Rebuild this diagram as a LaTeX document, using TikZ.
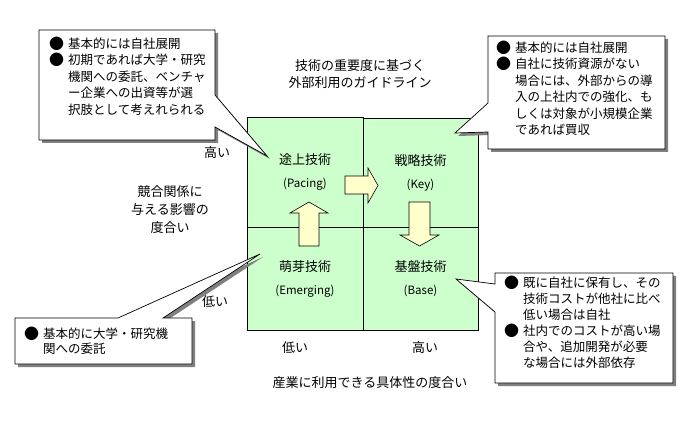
\documentclass[tikz,border=0pt]{standalone}
\usepackage{fontspec}
\setmainfont{Noto Sans CJK JP}
\definecolor{qgreen}{HTML}{CCFFCC}
\definecolor{ayellow}{HTML}{FFFFCC}
\definecolor{shadowgray}{HTML}{808080}
\newcommand{\bul}{\makebox[18pt][l]{\hspace*{-1pt}\raisebox{-1pt}{\fontsize{15}{16}\selectfont ●}}}
\newcommand{\ind}{\hspace*{18pt}}
\newcommand{\lat}[1]{{\fontsize{11.5}{14}\selectfont #1}}
\begin{document}
\begin{tikzpicture}[x=1pt,y=-1pt,
  font=\fontsize{13}{17}\selectfont,
  quad/.style={draw=black, fill=qgreen, line width=0.7pt, inner sep=0pt, align=center},
  blockarrow/.style={draw=black, fill=ayellow, line width=0.6pt, line join=miter},
  callout/.style={draw=black, fill=white, line width=0.7pt,
    preaction={fill=shadowgray, transform canvas={xshift=3pt,yshift=-3pt}}},
  ctext/.style={anchor=west, align=left, inner sep=0pt, font=\fontsize{12.5}{16.5}\selectfont},
  lbl/.style={inner sep=0pt, align=center}]
\useasboundingbox (0,0) rectangle (689,425);

% quadrants
\node[quad, minimum width=116pt, minimum height=110pt] (pac) at (305,172) {途上技術\\[6pt]\lat{(Pacing)}};
\node[quad, minimum width=115pt, minimum height=109pt] (key) at (420.5,172.5) {戦略技術\\[6pt]\lat{(Key)}};
\node[quad, minimum width=116pt, minimum height=103pt] (emg) at (305,278.5) {萌芽技術\\[6pt]\lat{(Emerging)}};
\node[quad, minimum width=115pt, minimum height=103pt] (bas) at (420.5,278.5) {基盤技術\\[6pt]\lat{(Base)}};

% block arrows
\draw[blockarrow] (345,176) -- (368,176) -- (368,168) -- (378,185.5) -- (368,203) -- (368,194) -- (345,194) -- cycle;
\draw[blockarrow] (299,246) -- (299,213) -- (290,213) -- (309,202) -- (328,213) -- (319,213) -- (319,246) -- cycle;
\draw[blockarrow] (409,202) -- (430,202) -- (430,235) -- (439,235) -- (419.5,246) -- (400,235) -- (409,235) -- cycle;

% callouts
\draw[callout] (39,30) -- (215,30) -- (215,95) -- (267,156) -- (215,127) -- (215,140) -- (39,140) -- cycle;
\draw[callout] (488,36) -- (665,36) -- (665,149) -- (488,149) -- (488,132) -- (455,133) -- (488,103) -- cycle;
\draw[callout] (495,273) -- (673,273) -- (673,383) -- (495,383) -- (495,312) -- (456,279) -- (495,284) -- cycle;
\draw[callout] (15,318) -- (118,318) -- (260,254) -- (163,318) -- (192,318) -- (192,364) -- (15,364) -- cycle;

\node[ctext] (c1) at (50,76) {\bul 基本的には自社展開\\\bul 初期であれば大学・研究\\\ind 機関への委託、ベンチャ\\\ind ー企業への出資等が選\\\ind 択肢として考えれられる};
\node[ctext] (c2) at (497,88.5) {\bul 基本的には自社展開\\\bul 自社に技術資源がない\\\ind 場合には、外部からの導\\\ind 入の上社内での強化、も\\\ind しくは対象が小規模企業\\\ind であれば買収};
\node[ctext, font=\fontsize{12.5}{16}\selectfont] (c3) at (505,322.5) {\bul 既に自社に保有し、その\\\ind 技術コストが他社に比べ\\\ind 低い場合は自社\\\bul 社内でのコストが高い場\\\ind 合や、追加開発が必要\\\ind な場合には外部依存};
\node[ctext, font=\fontsize{12.5}{15}\selectfont] (c4) at (25,340.5) {\bul 基本的に大学・研究機\\\ind 関への委託};

% labels
\node[lbl] (title) at (360,74.5) {技術の重要度に基づく\\外部利用のガイドライン};
\node[lbl] (yhigh) at (217,153) {高い};
\node[lbl] (ylow) at (215,302) {低い};
\node[lbl, font=\fontsize{13}{18}\selectfont] (ytitle) at (170,210) {競合関係に\\与える影響の\\度合い};
\node[lbl] (xlow) at (295,348) {低い};
\node[lbl] (xhigh) at (425,348) {高い};
\node[lbl] (xtitle) at (370,383) {産業に利用できる具体性の度合い};
\end{tikzpicture}
\end{document}
